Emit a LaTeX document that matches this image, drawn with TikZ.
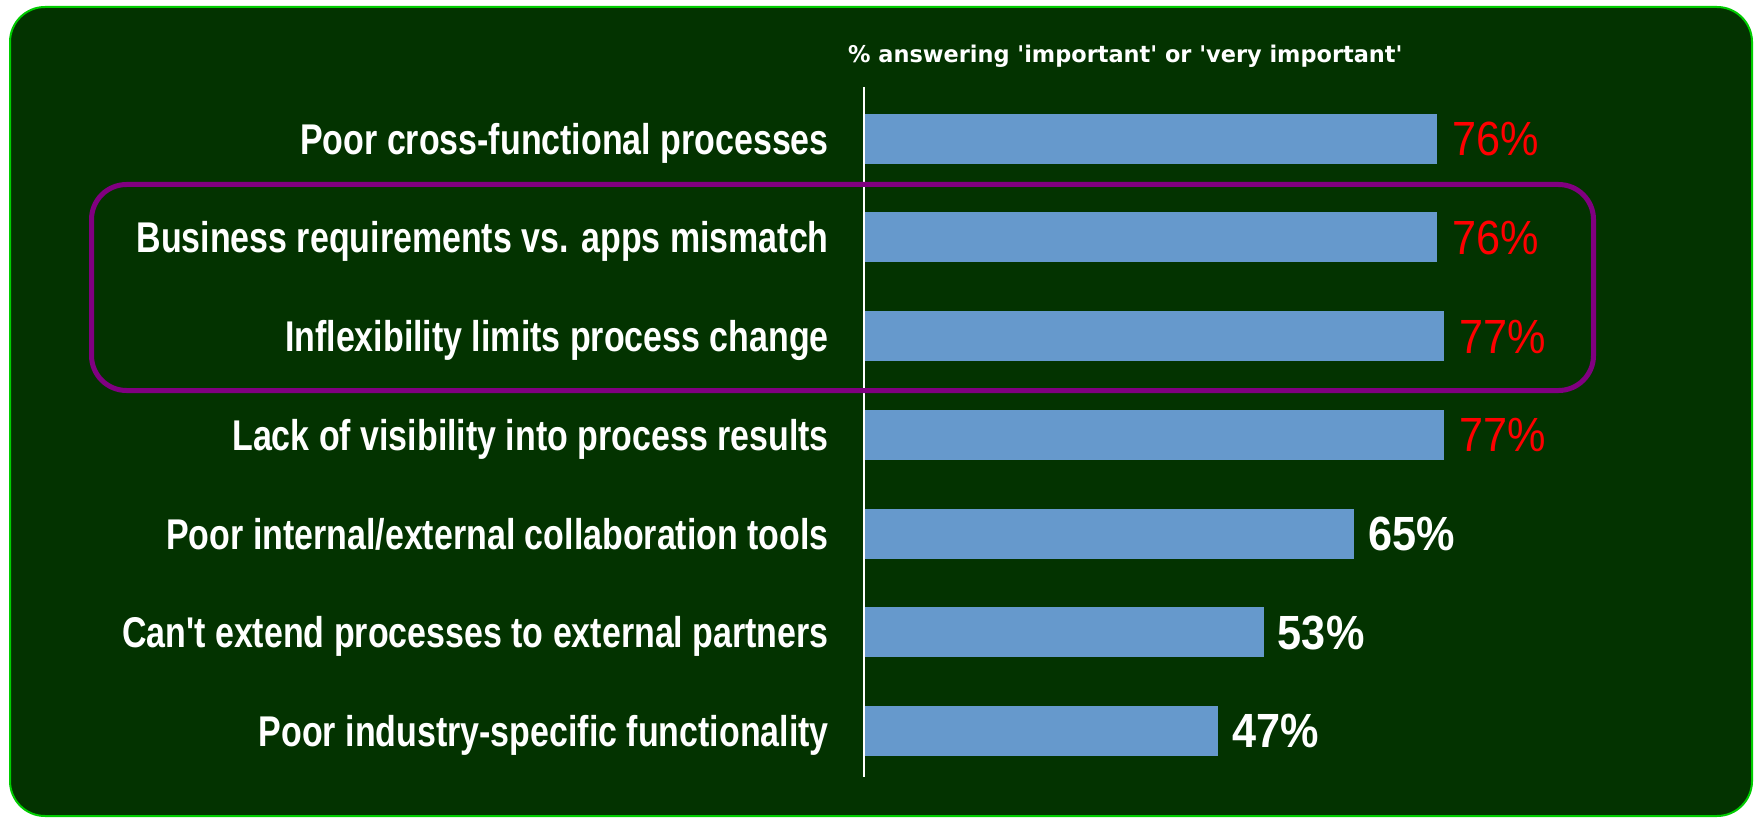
\documentclass[tikz,border=0pt]{standalone}
\usepackage{fontspec}
\usepackage{tikz}
\usetikzlibrary{positioning}
\newfontfamily\catfont[FakeStretch=0.79]{Liberation Sans}
\newfontfamily\valfont[FakeStretch=0.9]{Liberation Sans}
\newfontfamily\headfont[FakeStretch=0.975]{DejaVu Sans}
\definecolor{panelgreen}{RGB}{3,51,0}
\definecolor{edgegreen}{RGB}{0,204,0}
\definecolor{barblue}{RGB}{102,153,204}
\definecolor{boxpurple}{RGB}{128,0,128}
\definecolor{valred}{RGB}{255,0,0}

\begin{document}
\begin{tikzpicture}[x=1pt,y=-1pt,
hbar/.style={
rectangle,
fill=barblue,
inner sep=0pt,
anchor=west,
minimum height=50pt,
minimum width=#1*7.535pt
},
cat/.style={
text=white,
inner sep=0pt,
text height=31pt,
text depth=0pt,
font=\catfont\bfseries\fontsize{43}{50}\selectfont
},
val/.style={
text=white,
inner sep=0pt,
text height=34pt,
text depth=0pt,
font=\valfont\bfseries\fontsize{48}{56}\selectfont
},
valhi/.style={val,text=valred,font=\valfont\fontsize{48}{56}\selectfont},
head/.style={text=white,inner sep=0pt,font=\headfont\bfseries\fontsize{23}{28}\selectfont},
axis/.style={draw=white,line width=1.5pt},
]
\fill[white] (0,0) rectangle (1758,821);
\useasboundingbox (0,0) rectangle (1758,821);
\draw[fill=panelgreen,draw=edgegreen,line width=2pt,rounded corners=35pt] (10,7) rectangle (1752,816);

% bars
\node (b1) [hbar=76] at (864,138.7) {};
\node (b2) [hbar=76] at (864,237.4) {};
\node (b3) [hbar=77] at (864,336.1) {};
\node (b4) [hbar=77] at (864,434.8) {};
\node (b5) [hbar=65] at (864,533.5) {};
\node (b6) [hbar=53] at (864,632.2) {};
\node (b7) [hbar=47] at (864,730.9) {};

% axis
\coordinate (axtop) at (864,87);
\coordinate (axbot) at (864,777);
\draw[axis] (axtop) -- (axbot);

% labels
\node (l1) [cat,left=35pt of b1] {Poor cross-functional processes};
\node (l2) [cat,left=35pt of b2] {Business requirements vs. apps mismatch};
\node (l3) [cat,left=35pt of b3] {Inflexibility limits process change};
\node (l4) [cat,left=35pt of b4] {Lack of visibility into process results};
\node (l5) [cat,left=35pt of b5] {Poor internal/external collaboration tools};
\node (l6) [cat,left=35pt of b6] {Can't extend processes to external partners};
\node (l7) [cat,left=35pt of b7] {Poor industry-specific functionality};

% values
\node (v1) [valhi,right=15pt of b1] {76\%};
\node (v2) [valhi,right=15pt of b2] {76\%};
\node (v3) [valhi,right=15pt of b3] {77\%};
\node (v4) [valhi,right=15pt of b4] {77\%};
\node (v5) [val,right=14pt of b5] {65\%};
\node (v6) [val,right=14pt of b6] {53\%};
\node (v7) [val,right=14pt of b7] {47\%};

\node (hd) [head,anchor=base west] at (848,63) {\% answering 'important' or 'very important'};

% highlight
\draw[boxpurple,line width=5pt,rounded corners=35pt] (91.5,184.5) rectangle (1593.5,390.5);
\end{tikzpicture}
\end{document}
